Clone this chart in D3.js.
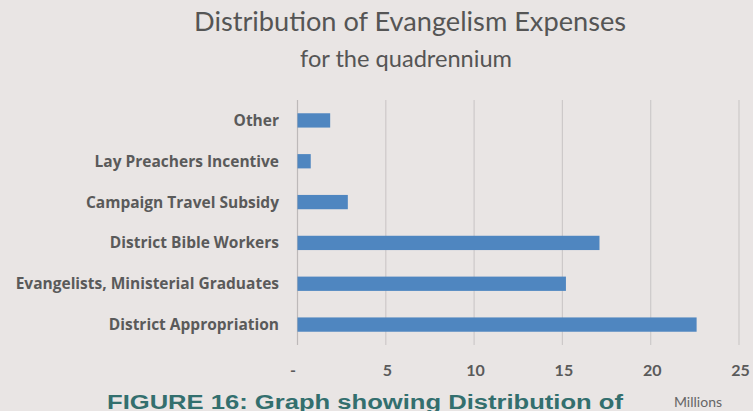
<!DOCTYPE html>
<html>
<head>
<meta charset="utf-8">
<script src="https://cdn.jsdelivr.net/npm/d3@7"></script>
<style>
  body { margin: 0; background: #e9e5e4; }
  svg { display: block; }
</style>
</head>
<body>
<script>
// chart data
var categories = ["Other", "Lay Preachers Incentive", "Campaign Travel Subsidy",
  "District Bible Workers", "Evangelists, Ministerial Graduates", "District Appropriation"];
var amounts = [1.85, 0.75, 2.85, 17.1, 15.2, 22.6];   // millions
var xTicks = [0, 5, 10, 15, 20, 25];

var width = 753, height = 411;

var svg = d3.select("body").append("svg")
    .attr("width", width)
    .attr("height", height);

svg.append("rect")
    .attr("width", width)
    .attr("height", height)
    .attr("fill", "#e9e5e4");

// scales
var x = d3.scaleLinear().domain([0, 25]).range([297.5, 739]);
var y = d3.scaleBand().domain(categories).range([100, 345])
    .paddingInner(0.65).paddingOuter(0.325);

// gridlines
svg.append("g")
  .selectAll("line")
  .data(xTicks)
  .enter().append("line")
    .attr("x1", function(d) { return x(d); })
    .attr("x2", function(d) { return x(d); })
    .attr("y1", 100)
    .attr("y2", 345)
    .attr("stroke", function(d) { return d == 0 ? "#bdb9b9" : "#cdc9c9"; })
    .attr("stroke-width", 1.2);

// bars
svg.selectAll(".bar")
  .data(categories)
  .enter().append("rect")
    .attr("class", "bar")
    .attr("x", x(0))
    .attr("y", function(d) { return y(d); })
    .attr("width", function(d, i) { return x(amounts[i]) - x(0); })
    .attr("height", y.bandwidth())
    .attr("fill", "#4f86c0");

// category labels
svg.append("g")
  .selectAll("text")
  .data(categories)
  .enter().append("text")
    .text(function(d) { return d; })
    .attr("x", 279)
    .attr("y", function(d) { return y(d) + y.bandwidth() / 2; })
    .attr("dy", "0.35em")
    .attr("text-anchor", "end")
    .attr("font-family", "Open Sans")
    .attr("font-weight", "bold")
    .attr("font-size", 15.5)
    .attr("fill", "#5a5a5a");

// x axis labels
var xAxis = svg.append("g")
    .attr("transform", "translate(0,362)")
    .call(d3.axisBottom(x)
      .tickValues(xTicks)
      .tickSize(0)
      .tickFormat(function(d) { return d == 0 ? "-" : d; }));
xAxis.select(".domain").remove();
xAxis.selectAll("text")
    .attr("font-family", "Lato")
    .attr("font-weight", "bold")
    .attr("font-size", 16)
    .attr("fill", "#5a5a5a")
    .attr("dx", function(d) { return d == 0 ? -5 : 1; });

svg.append("text")
    .text("Millions")
    .attr("x", 698)
    .attr("y", 407)
    .attr("text-anchor", "middle")
    .attr("font-family", "Lato")
    .attr("font-size", 14)
    .attr("fill", "#666");

// titles
svg.append("text")
    .text("Distribution of Evangelism Expenses")
    .attr("x", 194)
    .attr("y", 31)
    .attr("font-family", "Lato")
    .attr("font-size", 26.5)
    .attr("textLength", 432)
    .attr("lengthAdjust", "spacingAndGlyphs")
    .attr("fill", "#555");

svg.append("text")
    .text("for the quadrennium")
    .attr("x", 300)
    .attr("y", 67)
    .attr("font-family", "Lato")
    .attr("font-size", 23)
    .attr("textLength", 212)
    .attr("lengthAdjust", "spacingAndGlyphs")
    .attr("fill", "#555");

// figure caption
svg.append("text")
    .text("FIGURE 16: Graph showing Distribution of")
    .attr("x", 107)
    .attr("y", 409)
    .attr("font-family", "Liberation Sans")
    .attr("font-weight", "bold")
    .attr("font-size", 20)
    .attr("textLength", 516)
    .attr("lengthAdjust", "spacingAndGlyphs")
    .attr("fill", "#336f6e");
</script>
</body>
</html>
